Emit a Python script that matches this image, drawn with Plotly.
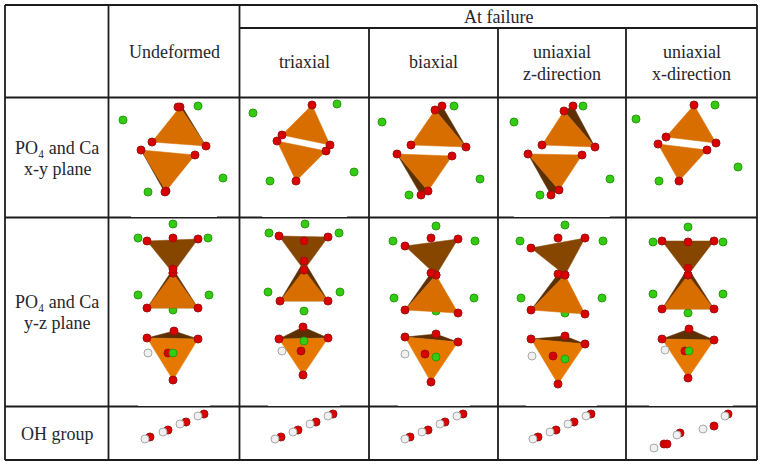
import plotly.graph_objects as go

# Table structure (pixel-like units)
COL_EDGES = [5, 108.5, 239.5, 369, 498, 626, 757]
ROW_EDGES = [5, 28, 97.5, 217.5, 406.5, 460]

# One entry per text line
HEADER_LINES = ["Undeformed", "triaxial", "biaxial", "uniaxial", "z-direction", "uniaxial", "x-direction"]
HEADER_LINE_X = [174, 304, 433.5, 562, 562, 691.5, 691.5]
HEADER_LINE_Y = [52, 62, 62, 52, 74, 52, 74]
ROW_LINES = ["PO₄ and Ca", "x-y plane", "PO₄ and Ca", "y-z plane", "OH group"]
ROW_LINE_Y = [148, 169, 302, 323, 434]

# Stretches where a pasted picture covers the top of a rule
THIN_RULE_Y = [217.5, 217.5, 217.5, 406.5, 406.5, 406.5, 406.5, 406.5]
THIN_RULE_X0 = [131, 262, 514, 138, 268, 398, 526, 649]
THIN_RULE_X1 = [217, 347, 610, 210, 340, 470, 597, 733]

# Orange faces of the tetrahedra
ORANGE_FACES = [
    [(180,107),(206,146),(152,142)], [(141,150),(195,155),(166,191)],
    [(312,105),(330,145),(282,135)], [(277,141),(326,151),(296,181)],
    [(435,110),(466,147),(411,145)], [(397,154),(452,156),(428,191)],
    [(564,111),(595,147),(542,145)], [(528,154),(582,155),(559,190)],
    [(694,105),(716,143),(666,137)], [(658,144),(707,150),(679,181)],
    [(173,273),(147,308),(198,308)], [(304,270),(280,301),(328,301)],
    [(436,275),(405,310),(458,313)], [(565,275),(531,310),(585,314)],
    [(688,275),(662,309),(714,309)],
]
# Brighter faces of the lower y-z figures
BRIGHT_FACES = [
    [(147,338),(198,339),(173,380)], [(279,339),(328,338),(303,375)],
    [(405,337),(458,342),(431,382)], [(531,339),(585,344),(558,384)],
    [(662,339),(714,340),(688,378)],
]
# Mid-brown inverted faces
BROWN_FACES = [
    [(147,241),(198,239),(173,273)], [(279,236),(328,237),(304,270)],
    [(405,246),(458,239),(436,275)], [(531,248),(585,238),(565,275)],
    [(662,241),(714,241),(688,275)],
]
# Dark faces lying behind the orange ones
DARK_FACES = [
    [(180,107),(183,108),(206,146)], [(166,191),(164,191),(141,150)],
    [(442,106),(466,147),(435,110)], [(397,154),(421,195),(428,191)],
    [(573,106),(595,147),(564,111)], [(528,154),(551,195),(559,190)],
    [(173,269),(147,308),(198,308)], [(304,261),(280,301),(328,301)],
    [(431,273),(405,310),(436,275)], [(558,274),(531,310),(565,275)],
    [(688,268),(662,309),(714,309)],
    [(147,338),(198,339),(174,331)], [(279,339),(328,338),(303,327)],
    [(405,337),(458,342),(436,334)], [(531,339),(585,344),(565,336)],
    [(662,339),(714,340),(689,329)],
]
# Atoms
O_EXTRA_X = [178,165, 442,421, 573,551, 173,173, 304,304, 431,431, 558,558, 688,688,
             174,168, 303,301, 436,425, 565,553, 689,685]
O_EXTRA_Y = [107,192, 106,195, 106,195, 238,269, 241,261, 238,273, 238,274, 242,268,
             331,353, 327,351, 334,354, 336,356, 329,351]
CA_BACK_X = [173,304,436,565,688]
CA_BACK_Y = [310,311,311,313,313]
CA_X = [198,123,223,148, 337,253,354,270, 454,382,480,409, 583,514,610,540, 715,636,738,659,
        173,138,208,138,209, 305,269,339,268,340, 436,393,475,394,474, 565,520,603,521,602, 688,653,723,653,723,
        173,304,436,565,689]
CA_Y = [106,120,178,192, 104,113,172,181, 106,122,179,195, 106,122,179,195, 105,119,167,181,
        224,238,238,295,295, 224,233,233,292,292, 226,241,241,298,298, 225,241,241,298,298, 227,242,242,294,294,
        353,341,357,359,351]
H_X = [148,282,405,532,665]
H_Y = [353,351,354,356,350]
OH_O_X = [150,168,186,204, 281,298,316,333, 410,428,445,463, 538,556,574,591, 664,667,680,714,728]
OH_O_Y = [437,430,422,414, 437,430,422,414, 437,430,422,414, 437,430,422,414, 444,444,433,426,414]
OH_H_X = [145,163,180,198, 275,293,310,328, 405,422,440,457, 533,550,568,586, 654,677,703,725]
OH_H_Y = [439,432,424,416, 439,432,424,416, 439,432,424,416, 439,432,424,416, 448,435,429,416]

GRID = "#1c1c1c"
ORANGE = "#d86e00"
BRIGHT = "#e67800"
BROWN = "#864600"
DARK = "#5c3000"
RED = "#d80000"
GREEN = "#33cc10"
TEXT = "#26262e"
FONT = "Liberation Serif"

fig = go.Figure()

def add_faces(faces, color):
    for face in faces:
        xs = [p[0] for p in face] + [face[0][0]]
        ys = [p[1] for p in face] + [face[0][1]]
        fig.add_trace(go.Scatter(x=xs, y=ys, mode="lines", fill="toself", fillcolor=color,
                                 line=dict(color=color, width=0.5), hoverinfo="skip"))

def add_atoms(xs, ys, color, edge, size=8):
    fig.add_trace(go.Scatter(x=xs, y=ys, mode="markers", hoverinfo="skip",
                             marker=dict(color=color, size=size, line=dict(color=edge, width=1))))

add_atoms(CA_BACK_X, CA_BACK_Y, GREEN, "#2a9a10")
add_faces(DARK_FACES, DARK)
add_faces(BROWN_FACES, BROWN)
add_faces(ORANGE_FACES, ORANGE)
add_faces(BRIGHT_FACES, BRIGHT)

all_faces = ORANGE_FACES + BRIGHT_FACES + BROWN_FACES
vertex_x = [p[0] for f in all_faces for p in f]
vertex_y = [p[1] for f in all_faces for p in f]
add_atoms(vertex_x + O_EXTRA_X, vertex_y + O_EXTRA_Y, RED, "#a01010")
add_atoms(CA_X, CA_Y, GREEN, "#2a9a10")
add_atoms(H_X, H_Y, "#f0f0f0", "#a8a8a8")
add_atoms(OH_O_X, OH_O_Y, RED, "#a01010")
add_atoms(OH_H_X, OH_H_Y, "#f0f0f0", "#a8a8a8")

def seg(x0, y0, x1, y1, color=GRID, width=1.8):
    fig.add_shape(type="line", x0=x0, y0=y0, x1=x1, y1=y1, layer="below",
                  line=dict(color=color, width=width))

for x in COL_EDGES:
    if x in COL_EDGES[3:6]:
        seg(x, ROW_EDGES[1], x, ROW_EDGES[-1])
    else:
        seg(x, ROW_EDGES[0], x, ROW_EDGES[-1])
for i, y in enumerate(ROW_EDGES):
    if i == 1:
        seg(COL_EDGES[2], y, COL_EDGES[-1], y)
    else:
        seg(COL_EDGES[0], y, COL_EDGES[-1], y)
for y, x0, x1 in zip(THIN_RULE_Y, THIN_RULE_X0, THIN_RULE_X1):
    seg(x0, y - 1, x1, y - 1, color="white", width=1)

def label(x, y, text):
    fig.add_annotation(x=x, y=y, text=text, showarrow=False, xanchor="center", yanchor="middle",
                       font=dict(family=FONT, size=18, color=TEXT), align="center")

label(498, 16.5, "At failure")
for x, y, t in zip(HEADER_LINE_X, HEADER_LINE_Y, HEADER_LINES):
    label(x, y, t)
for y, t in zip(ROW_LINE_Y, ROW_LINES):
    label(57, y, t)

fig.update_layout(
    width=763, height=467, margin=dict(l=0, r=0, t=0, b=0),
    showlegend=False, paper_bgcolor="white", plot_bgcolor="white",
    xaxis=dict(range=[0, 763], visible=False, fixedrange=True),
    yaxis=dict(range=[467, 0], visible=False, fixedrange=True),
)
fig.write_html("out.html", config=dict(displayModeBar=False),
               post_script="document.body.style.margin='0';document.documentElement.style.overflow='hidden';")
